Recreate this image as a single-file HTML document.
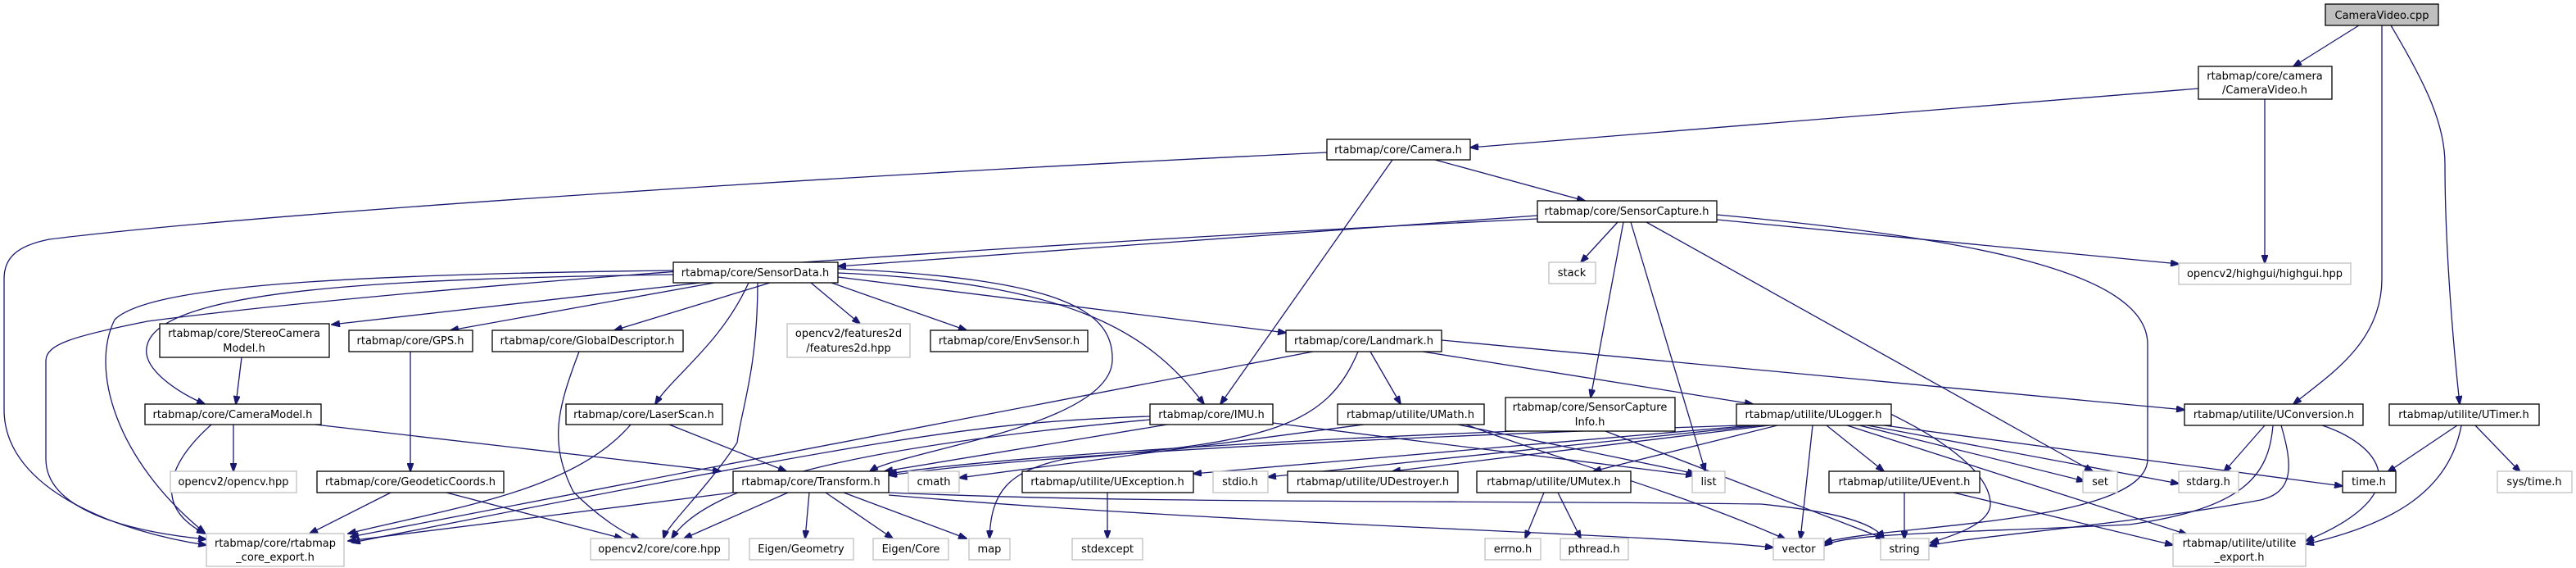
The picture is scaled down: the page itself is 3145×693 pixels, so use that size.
<!DOCTYPE html>
<html><head><meta charset="utf-8"><style>
html,body{margin:0;padding:0;background:#fff;}
svg{display:block;}
text{font-family:"DejaVu Sans","Liberation Sans",sans-serif;font-size:13px;fill:#000;}
.n{fill:#fff;stroke:#000;stroke-width:1.3;}
.g{fill:#fff;stroke:#bfbfbf;stroke-width:1.3;}
.e{fill:none;stroke:#191970;stroke-width:1.3;}
</style></head><body>
<svg width="3145" height="693" viewBox="0 0 3145 693" xmlns="http://www.w3.org/2000/svg">
<defs><marker id="a" markerWidth="11" markerHeight="8" refX="10" refY="4" orient="auto" markerUnits="userSpaceOnUse"><path d="M0,0 L11,4 L0,8 z" fill="#191970" stroke="#191970"/></marker></defs>
<g marker-end="url(#a)" class="e">
<path d="M2880,31 L2800,81"/>
<path d="M2908,31 C2908,150 2908,300 2908,340 C2908,420 2840,460 2800,493"/>
<path d="M2919,31 C2960,100 2985,150 2985,200 C2985,300 2995,420 3003,493"/>
<path d="M2684,108 L1795,180"/>
<path d="M2765,121 L2765,321"/>
<path d="M1620,186 C1000,215 300,262 60,292 C20,300 5,315 5,340 L5,500 C5,600 150,650 252,665"/>
<path d="M1752,195 L1935,245"/>
<path d="M1700,195 L1490,493"/>
<path d="M1877,263 L1023,325"/>
<path d="M1877,267 C1200,300 500,350 180,392 C90,410 56,420 56,440 L56,560 C56,620 150,648 252,658"/>
<path d="M1975,271 L1930,320"/>
<path d="M1982,271 L1942,485"/>
<path d="M1991,271 L2082,575"/>
<path d="M2010,271 L2555,575"/>
<path d="M2096,268 L2660,322"/>
<path d="M2096,262 C2400,290 2622,330 2622,420 L2622,560 C2622,640 2300,640 2227,662"/>
<path d="M855,345 L405,396"/>
<path d="M872,345 L550,403"/>
<path d="M940,345 L750,403"/>
<path d="M990,345 L1050,395"/>
<path d="M1015,345 L1180,403"/>
<path d="M1023,338 L1570,406"/>
<path d="M1023,333 C1300,345 1400,400 1470,493"/>
<path d="M914,345 C880,420 820,460 800,493"/>
<path d="M822,335 C500,340 200,350 180,420 C170,450 220,480 250,493"/>
<path d="M822,330 C400,335 180,350 140,390 C110,450 140,560 250,650"/>
<path d="M925,345 C925,450 905,500 900,540 C860,600 815,640 810,657"/>
<path d="M1023,328 C1300,340 1360,380 1358,440 C1355,520 1100,550 1062,575"/>
<path d="M385,518 L880,575"/>
<path d="M295,436 L288,493"/>
<path d="M501,429 L501,575"/>
<path d="M707,429 C680,500 670,540 700,600 C730,630 760,650 780,657"/>
<path d="M258,518 C200,570 190,620 250,651"/>
<path d="M285,518 L285,575"/>
<path d="M477,601 L378,651"/>
<path d="M545,601 L760,657"/>
<path d="M770,518 C700,600 550,620 425,651"/>
<path d="M817,518 L960,575"/>
<path d="M895,601 L425,660"/>
<path d="M962,601 L835,657"/>
<path d="M988,601 L983,657"/>
<path d="M1008,601 L1090,657"/>
<path d="M1030,601 L1180,657"/>
<path d="M1085,604 C1500,640 2000,650 2165,668"/>
<path d="M1085,601 C1400,615 1800,610 2150,615 C2250,625 2290,640 2300,657"/>
<path d="M1603,429 L428,655"/>
<path d="M1658,429 C1620,520 1550,540 1300,560 C1230,575 1210,600 1208,657"/>
<path d="M1673,429 L1710,493"/>
<path d="M1737,429 L2140,493"/>
<path d="M1760,415 L2667,500"/>
<path d="M1404,508 C1200,515 1100,530 430,662"/>
<path d="M1425,518 L1080,575"/>
<path d="M1404,512 C1100,540 870,580 820,657"/>
<path d="M1554,516 L2068,580"/>
<path d="M1665,518 L1171,583"/>
<path d="M1780,518 L2070,578"/>
<path d="M1790,518 C1900,560 2050,600 2180,658"/>
<path d="M1850,526 C1500,540 1200,560 1085,578"/>
<path d="M1960,526 L2300,657"/>
<path d="M2125,519 C1800,530 1300,550 1085,580"/>
<path d="M2140,519 L1457,578"/>
<path d="M2150,519 L1548,582"/>
<path d="M2160,519 L1700,575"/>
<path d="M2170,519 L1945,575"/>
<path d="M2230,519 L2300,575"/>
<path d="M2213,519 L2198,658"/>
<path d="M2308,505 C2380,540 2430,580 2430,615 C2430,640 2380,655 2357,662"/>
<path d="M2270,519 L2545,587"/>
<path d="M2280,519 L2660,590"/>
<path d="M2300,519 L2860,593"/>
<path d="M2255,519 L2670,652"/>
<path d="M2325,601 L2325,658"/>
<path d="M2385,601 L2653,665"/>
<path d="M2765,519 L2715,576"/>
<path d="M2775,519 C2770,580 2740,620 2600,640 C2400,650 2250,650 2227,666"/>
<path d="M2785,519 C2800,570 2800,600 2760,610 C2600,640 2400,655 2355,666"/>
<path d="M2835,519 C2900,540 2960,600 2815,660"/>
<path d="M3000,519 L2915,576"/>
<path d="M3022,519 L3077,576"/>
<path d="M3005,519 C2990,600 2920,640 2815,664"/>
<path d="M1352,601 L1352,657"/>
<path d="M1885,601 L1862,657"/>
<path d="M1902,601 L1930,657"/>
</g>
<g text-anchor="middle">
<rect x="2839" y="5" width="138" height="26" fill="#bfbfbf" stroke="#000" stroke-width="1.3"/><text x="2908" y="23">CameraVideo.cpp</text>
<rect class="n" x="2684" y="81" width="163" height="40"/><text x="2765" y="97">rtabmap/core/camera</text><text x="2765" y="114">/CameraVideo.h</text>
<rect class="n" x="1620" y="170" width="175" height="25"/><text x="1707" y="187">rtabmap/core/Camera.h</text>
<rect class="n" x="1877" y="245" width="219" height="26"/><text x="1986" y="262">rtabmap/core/SensorCapture.h</text>
<rect class="n" x="822" y="320" width="201" height="25"/><text x="922" y="337">rtabmap/core/SensorData.h</text>
<rect class="g" x="1891" y="320" width="57" height="26"/><text x="1919" y="337">stack</text>
<rect class="g" x="2660" y="321" width="210" height="26"/><text x="2765" y="338">opencv2/highgui/highgui.hpp</text>
<rect class="n" x="195" y="395" width="207" height="41"/><text x="298" y="411">rtabmap/core/StereoCamera</text><text x="298" y="429">Model.h</text>
<rect class="n" x="426" y="403" width="151" height="26"/><text x="501" y="420">rtabmap/core/GPS.h</text>
<rect class="n" x="601" y="403" width="233" height="26"/><text x="717" y="420">rtabmap/core/GlobalDescriptor.h</text>
<rect class="g" x="961" y="395" width="150" height="41"/><text x="1036" y="411">opencv2/features2d</text><text x="1036" y="429">/features2d.hpp</text>
<rect class="n" x="1136" y="403" width="192" height="26"/><text x="1232" y="420">rtabmap/core/EnvSensor.h</text>
<rect class="n" x="1570" y="403" width="190" height="26"/><text x="1665" y="420">rtabmap/core/Landmark.h</text>
<rect class="n" x="177" y="493" width="215" height="25"/><text x="284" y="510">rtabmap/core/CameraModel.h</text>
<rect class="n" x="691" y="493" width="191" height="25"/><text x="786" y="510">rtabmap/core/LaserScan.h</text>
<rect class="n" x="1404" y="493" width="150" height="25"/><text x="1479" y="510">rtabmap/core/IMU.h</text>
<rect class="n" x="1633" y="493" width="179" height="25"/><text x="1722" y="510">rtabmap/utilite/UMath.h</text>
<rect class="n" x="1838" y="485" width="207" height="41"/><text x="1941" y="501">rtabmap/core/SensorCapture</text><text x="1941" y="519">Info.h</text>
<rect class="n" x="2120" y="493" width="189" height="26"/><text x="2214" y="510">rtabmap/utilite/ULogger.h</text>
<rect class="n" x="2667" y="493" width="218" height="26"/><text x="2776" y="510">rtabmap/utilite/UConversion.h</text>
<rect class="n" x="2917" y="493" width="183" height="26"/><text x="3008" y="510">rtabmap/utilite/UTimer.h</text>
<rect class="g" x="208" y="575" width="154" height="26"/><text x="285" y="592">opencv2/opencv.hpp</text>
<rect class="n" x="387" y="575" width="228" height="26"/><text x="501" y="592">rtabmap/core/GeodeticCoords.h</text>
<rect class="n" x="895" y="575" width="190" height="26"/><text x="990" y="592">rtabmap/core/Transform.h</text>
<rect class="g" x="1109" y="575" width="62" height="26"/><text x="1140" y="592">cmath</text>
<rect class="n" x="1248" y="575" width="209" height="26"/><text x="1352" y="592">rtabmap/utilite/UException.h</text>
<rect class="g" x="1481" y="575" width="67" height="26"/><text x="1514" y="592">stdio.h</text>
<rect class="n" x="1572" y="575" width="208" height="26"/><text x="1676" y="592">rtabmap/utilite/UDestroyer.h</text>
<rect class="n" x="1803" y="575" width="188" height="26"/><text x="1897" y="592">rtabmap/utilite/UMutex.h</text>
<rect class="g" x="2066" y="575" width="40" height="26"/><text x="2086" y="592">list</text>
<rect class="n" x="2233" y="575" width="184" height="26"/><text x="2325" y="592">rtabmap/utilite/UEvent.h</text>
<rect class="g" x="2543" y="575" width="42" height="26"/><text x="2564" y="592">set</text>
<rect class="g" x="2660" y="575" width="73" height="26"/><text x="2696" y="592">stdarg.h</text>
<rect class="n" x="2860" y="575" width="65" height="26"/><text x="2892" y="592">time.h</text>
<rect class="g" x="3049" y="575" width="91" height="26"/><text x="3094" y="592">sys/time.h</text>
<rect class="g" x="252" y="651" width="168" height="40"/><text x="336" y="667">rtabmap/core/rtabmap</text><text x="336" y="684">_core_export.h</text>
<rect class="g" x="721" y="657" width="169" height="26"/><text x="805" y="674">opencv2/core/core.hpp</text>
<rect class="g" x="915" y="657" width="127" height="26"/><text x="978" y="674">Eigen/Geometry</text>
<rect class="g" x="1066" y="657" width="92" height="26"/><text x="1112" y="674">Eigen/Core</text>
<rect class="g" x="1183" y="657" width="50" height="26"/><text x="1208" y="674">map</text>
<rect class="g" x="1309" y="657" width="86" height="26"/><text x="1352" y="674">stdexcept</text>
<rect class="g" x="1813" y="657" width="68" height="26"/><text x="1847" y="674">errno.h</text>
<rect class="g" x="1905" y="657" width="83" height="26"/><text x="1946" y="674">pthread.h</text>
<rect class="g" x="2165" y="657" width="62" height="26"/><text x="2196" y="674">vector</text>
<rect class="g" x="2296" y="657" width="59" height="26"/><text x="2325" y="674">string</text>
<rect class="g" x="2653" y="651" width="162" height="40"/><text x="2734" y="667">rtabmap/utilite/utilite</text><text x="2734" y="684">_export.h</text>
</g>
</svg>
</body></html>
